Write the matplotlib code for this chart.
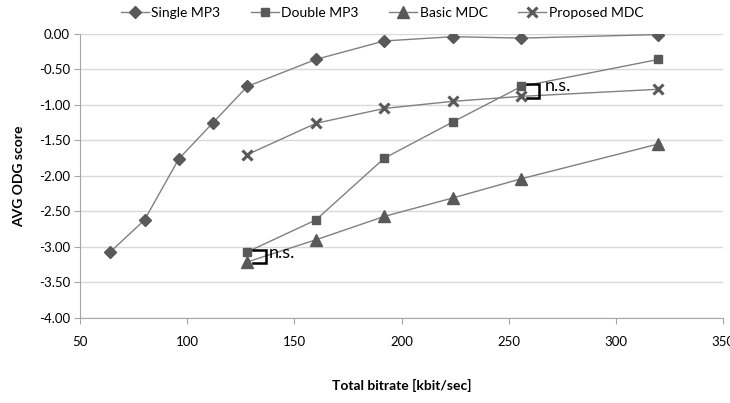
import matplotlib
matplotlib.use("Agg")
import matplotlib.pyplot as plt

plt.rcParams['font.family'] = ['Lato', 'DejaVu Sans']

x_single = [64, 80, 96, 112, 128, 160, 192, 224, 256, 320]
y_single = [-3.07, -2.62, -1.76, -1.25, -0.74, -0.36, -0.10, -0.04, -0.06, -0.01]
x_md = [128, 160, 192, 224, 256, 320]
y_double = [-3.07, -2.62, -1.75, -1.24, -0.74, -0.36]
y_basic = [-3.21, -2.90, -2.57, -2.31, -2.04, -1.55]
y_proposed = [-1.70, -1.26, -1.05, -0.95, -0.88, -0.78]
xticks = [50, 100, 150, 200, 250, 300, 350]
yticks = [0, -0.5, -1.0, -1.5, -2.0, -2.5, -3.0, -3.5, -4.0]

fig = plt.figure(figsize=(7.3, 4.03), dpi=100)
ax = fig.add_axes([0.110, 0.211, 0.880, 0.705])

line_c = '#808080'
mk_c = '#595959'
ax.plot(x_single, y_single, color=line_c, lw=1, marker='D', ms=6, mfc=mk_c, mec=mk_c, label='Single MP3', zorder=3)
ax.plot(x_md, y_double, color=line_c, lw=1, marker='s', ms=6, mfc=mk_c, mec=mk_c, label='Double MP3', zorder=3)
ax.plot(x_md, y_basic, color=line_c, lw=1, marker='^', ms=8, mfc=mk_c, mec=mk_c, label='Basic MDC', zorder=3)
ax.plot(x_md, y_proposed, color=line_c, lw=1, marker='x', ms=7, mew=2.2, mfc=mk_c, mec=mk_c, label='Proposed MDC', zorder=3)

# n.s. brackets
def bracket(x0, x1, ytop, ybot):
    ax.plot([x0, x1, x1, x0], [ytop, ytop, ybot, ybot], color='black', lw=1.8, zorder=4, solid_joinstyle='miter')

bracket(258.7, 264.3, -0.71, -0.90)
ax.text(267.0, -0.74, 'n.s.', fontsize=13, va='center', ha='left')
bracket(130.6, 136.9, -3.05, -3.22)
ax.text(138.0, -3.09, 'n.s.', fontsize=13, va='center', ha='left')

ax.set_xlim(50, 350)
ax.set_ylim(-4.0, 0.0)
ax.set_xticks(xticks)
ax.set_yticks(yticks)
ax.set_yticklabels([f'{v:.2f}' for v in yticks])
ax.grid(axis='y', color='#d9d9d9', lw=1)
ax.set_axisbelow(True)
for s in ['top', 'right']:
    ax.spines[s].set_visible(False)
for s in ['left', 'bottom']:
    ax.spines[s].set_color('#a6a6a6')
ax.tick_params(axis='both', colors='#a6a6a6', labelcolor='black', labelsize=9.5, length=4, direction='out')
ax.tick_params(axis='x', pad=9)

ax.set_ylabel('AVG ODG score', fontsize=10, fontweight='bold', labelpad=10)
ax.set_xlabel('Total bitrate [kbit/sec]', fontsize=10, fontweight='bold', labelpad=22)

ax.legend(loc='upper center', bbox_to_anchor=(0.47, 1.14), ncol=4, frameon=False,
          fontsize=10, handlelength=2.0, handletextpad=0.2, columnspacing=2.2)

fig.savefig('out.png', dpi=100)
